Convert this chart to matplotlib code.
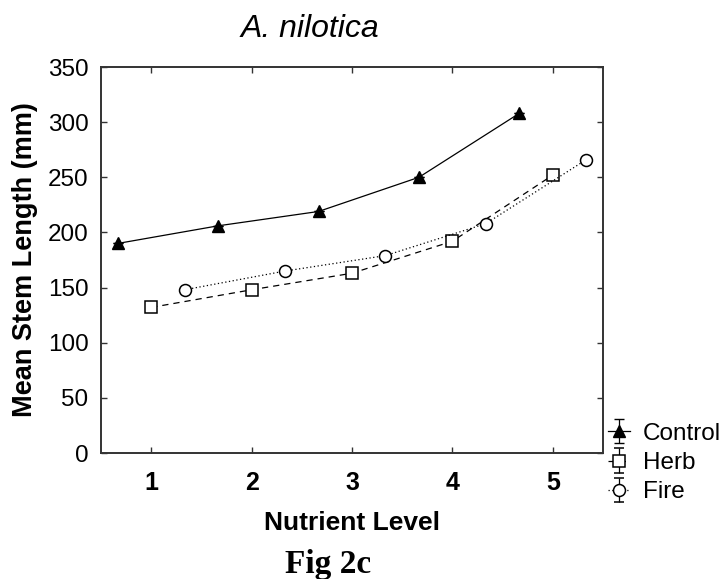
import numpy as np
import matplotlib
matplotlib.use("Agg")
import matplotlib.pyplot as plt

# values
levels = np.array([1, 2, 3, 4, 5])
control = [190, 206, 219, 250, 308]
herb = [132, 148, 163, 192, 252]
fire = [148, 165, 179, 208, 266]
offset = 1 / 3.0

plt.rcParams['font.family'] = ['Liberation Sans', 'DejaVu Sans']

W, H = 724, 579
fig = plt.figure(figsize=(W / 100, H / 100), dpi=100)
ax = fig.add_axes([101 / W, 1 - 453 / H, (603 - 101) / W, (453 - 67) / H])

ms = 9
ctl = ax.errorbar(levels - offset, control, yerr=0, fmt='-^', color='black',
                  mfc='black', mec='black', ms=ms, lw=0.9, capsize=3.8,
                  elinewidth=0.9, label='Control')
hrb = ax.errorbar(levels, herb, yerr=0, fmt='s', ls=(0, (5, 4)), color='black',
                  mfc='white', mec='black', ms=8.6, mew=1.1, lw=0.9,
                  capsize=3.8, elinewidth=0.9, label='Herb')
fre = ax.errorbar(levels + offset, fire, yerr=0, fmt='o', ls=(0, (1, 2)),
                  color='black', mfc='white', mec='black', ms=8.6, mew=1.1,
                  lw=0.9, capsize=3.8, elinewidth=0.9, label='Fire')

ax.set_xlim(0.5, 5.5)
ax.set_ylim(0, 350)
ax.set_xticks(levels)
ax.set_yticks(np.arange(0, 351, 50))
ax.tick_params(direction='in', top=True, right=True, length=4, width=1,
               color='#333333')
ax.tick_params(axis='x', labelsize=18, pad=13)
ax.tick_params(axis='y', labelsize=17.5, pad=9)
for t in ax.get_xticklabels():
    t.set_fontweight('bold')
for s in ax.spines.values():
    s.set_linewidth(1.4)
    s.set_color('#333333')

fig.text(25 / W, 1 - 260 / H, 'Mean Stem Length (mm)', rotation=90,
         ha='center', va='center', fontsize=19.5, fontweight='bold')
fig.text(352 / W, 1 - 530 / H, 'Nutrient Level', ha='center', va='baseline',
         fontsize=19, fontweight='bold')
fig.text(310 / W, 1 - 37 / H, 'A. nilotica', ha='center', va='baseline',
         fontsize=23, style='italic')
fig.text(328 / W, 1 - 573 / H, 'Fig 2c', ha='center', va='baseline',
         fontsize=24, fontweight='bold', family='Liberation Serif')

fig.legend(handles=[ctl, hrb, fre], loc='center left',
           bbox_to_anchor=(608 / W, 1 - 463 / H), frameon=False,
           fontsize=17.5, handlelength=0.9, handletextpad=0.55,
           labelspacing=0.3, borderpad=0, borderaxespad=0)

fig.savefig('out.png', dpi=100)
